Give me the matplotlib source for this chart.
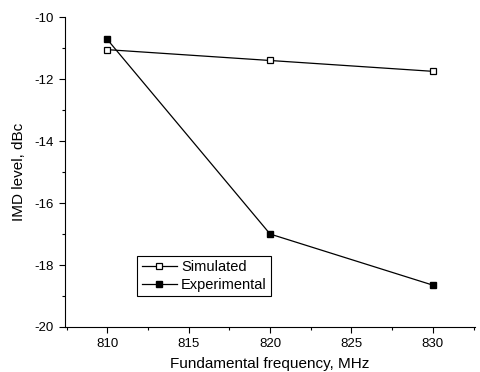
import matplotlib
matplotlib.use('Agg')
import matplotlib.pyplot as plt
import matplotlib.ticker as ticker

plt.rcParams['font.family'] = ['Liberation Sans', 'DejaVu Sans']
plt.rcParams['axes.unicode_minus'] = False

freqs = [810, 820, 830]
simulated = [-11.05, -11.4, -11.75]
experimental = [-10.72, -17.0, -18.65]

fig = plt.figure(figsize=(4.81, 3.72), dpi=100)
ax = fig.add_axes([0.135, 0.121, 0.853, 0.833])

ax.plot(freqs, simulated, color='black', linewidth=0.9, marker='s', markersize=5,
        markerfacecolor='white', markeredgecolor='black', markeredgewidth=0.9, label='Simulated')
ax.plot(freqs, experimental, color='black', linewidth=0.9, marker='s', markersize=5,
        markerfacecolor='black', markeredgecolor='black', label='Experimental')

ax.set_xlim(807.4, 832.6)
ax.set_ylim(-20, -10)
ax.xaxis.set_major_locator(ticker.MultipleLocator(5))
ax.xaxis.set_minor_locator(ticker.MultipleLocator(2.5))
ax.yaxis.set_major_locator(ticker.MultipleLocator(2))
ax.yaxis.set_minor_locator(ticker.MultipleLocator(1))
ax.tick_params(which='major', length=4, width=0.8, labelsize=9.5, pad=4)
ax.tick_params(which='minor', length=2.5, width=0.8)

for side in ['top', 'right']:
    ax.spines[side].set_visible(False)

ax.set_xlabel('Fundamental frequency, MHz', fontsize=11, labelpad=5)
ax.set_ylabel('IMD level, dBc', fontsize=11, labelpad=6)

leg = ax.legend(loc='lower left', bbox_to_anchor=(0.176, 0.1), borderaxespad=0,
                fancybox=False, edgecolor='black', framealpha=1, fontsize=10.5,
                handlelength=2.4, handletextpad=0.3, borderpad=0.3, labelspacing=0.25,
                markerscale=0.85)
leg.get_frame().set_linewidth(0.8)

fig.savefig('out.png', dpi=100)
